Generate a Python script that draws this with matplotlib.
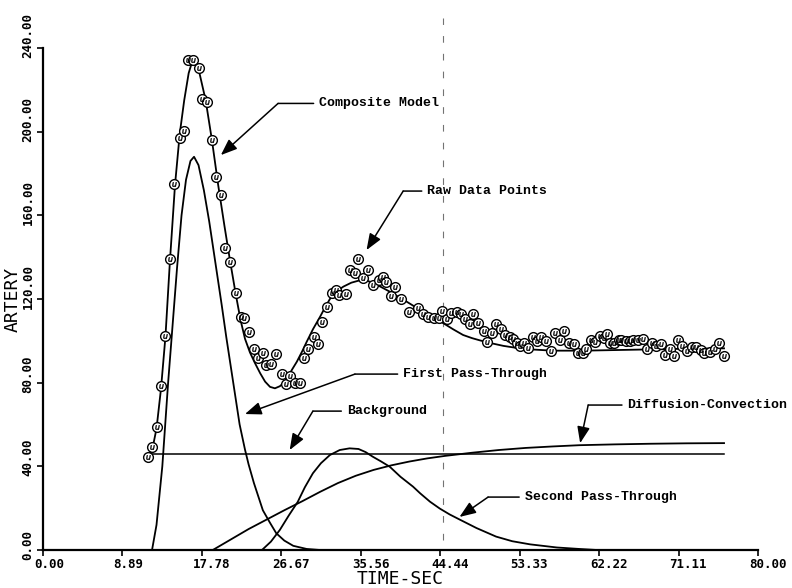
import matplotlib
matplotlib.use("Agg")
import matplotlib.pyplot as plt
from matplotlib.transforms import ScaledTranslation

# ---------------- data ----------------
raw_t = [11.7, 12.2, 12.7, 13.2, 13.7, 14.2, 14.7, 15.3, 15.8, 16.26, 16.8, 17.4, 17.8, 18.4,
         18.9, 19.4, 19.9, 20.4, 20.9, 21.6, 22.2, 22.5, 23.1, 23.6, 24.1, 24.6, 25.0, 25.5,
         26.1, 26.7, 27.2, 27.6, 28.2, 28.7, 29.2, 29.7, 30.3, 30.8, 31.2, 31.8, 32.3, 32.8,
         33.1, 33.9, 34.3, 34.9, 35.3, 35.8, 36.4, 36.9, 37.6, 38.0, 38.4, 38.9, 39.4, 40.0,
         41.0, 42.0, 42.5, 43.1, 43.7, 44.3, 44.6, 45.2, 45.7, 46.3, 46.8, 47.2, 47.8, 48.1,
         48.7, 49.3, 49.7, 50.2, 50.7, 51.2, 51.7, 52.2, 52.6, 53.0, 53.4, 53.8, 54.3, 54.8,
         55.3, 55.7, 56.3, 56.8, 57.3, 57.8, 58.3, 58.8, 59.4, 59.9, 60.4, 60.8, 61.3, 61.8,
         62.3, 62.8, 63.1, 63.4, 63.9, 64.4, 64.7, 65.2, 65.7, 66.0, 66.6, 67.1, 67.6, 68.1,
         68.6, 69.1, 69.6, 70.1, 70.6, 71.1, 71.5, 72.1, 72.6, 73.1, 73.6, 74.0, 74.6, 75.2,
         75.6, 76.2]
raw_v = [44.6, 49.4, 58.9, 78.4, 102.3, 139, 175, 196.8, 200.4, 234.2, 234.2, 230.2, 215.4, 214,
         196, 178.4, 169.7, 144.2, 137.8, 122.7, 111.5, 111, 104.4, 96, 91.6, 94.3, 88.4, 88.9,
         93.5, 84.1, 79.3, 83.2, 80, 79.7, 91.6, 95.9, 102, 98.5, 109.1, 116.3, 122.7, 124.3,
         121.9, 122.4, 133.8, 132.3, 138.9, 129.9, 133.8, 126.7, 129, 130.4, 128.3, 121.4, 125.6, 119.8,
         113.9, 115.5, 112.8, 111.2, 110.8, 110.8, 114.4, 110.3, 113.4, 113.9, 112.8, 110.3, 107.9, 112.8,
         108.4, 104.8, 99.6, 103.9, 107.9, 105.5, 102.8, 102, 100.7, 98.8, 97.5, 98.8, 96.4, 102,
         99.9, 101.7, 100.1, 95.3, 103.6, 100.4, 104.7, 98.8, 98.5, 94, 94.3, 95.9, 100.4, 99.6,
         102.3, 101.2, 103.1, 98.8, 98.8, 100.4, 100.4, 100.1, 100.1, 100.4, 100.4, 100.7, 95.9, 98.8,
         97.5, 98.5, 93.2, 95.9, 92.7, 100.4, 97.5, 95.3, 97.2, 96.9, 95.6, 94, 94.8, 95.9,
         98.8, 92.7]

comp_t = [11.7, 12.2, 12.7, 13.2, 13.7, 14.2, 14.77, 15.3, 15.8, 16.3, 16.8, 17.1, 17.4, 18.2,
          18.9, 19.6, 20.3, 20.9, 21.55, 22.1, 22.6, 23.15, 23.7, 24.3, 24.85, 25.4, 25.95, 26.5,
          27.0, 27.4, 27.9, 28.4, 29.0, 29.5, 30.2, 31.0, 31.5, 32.1, 32.8, 33.6, 34.5, 35.5,
          36.2, 36.9, 37.8, 38.8, 39.7, 40.7, 41.8, 42.9, 43.8, 44.8, 45.9, 47.0, 48.0, 48.9,
          50.0, 51.5, 53.0, 55.0, 57.0, 60.4, 64.2, 67.9, 71.6, 76.2]
comp_v = [45.3, 47.5, 58, 77, 102, 138, 174.5, 199, 215, 228, 235, 234, 230, 215,
          196, 174.5, 155, 139, 122.7, 110, 101, 94.5, 89.5, 84.5, 80.5, 78, 77.3, 78.3,
          80.2, 82.8, 86.5, 90, 95, 99.5, 105.5, 111.5, 115.5, 120, 123.5, 125.9, 127.8, 129,
          128.8, 127.8, 125.8, 123.5, 121.2, 118.7, 115.8, 113.1, 110.8, 108.4, 105.5, 102.8, 101.3, 100.2,
          99, 97.6, 96.6, 95.8, 95.3, 95.3, 95.6, 95.9, 96.2, 96.4]

first_t = [12.2, 12.7, 13.35, 14.0, 14.4, 15.0, 15.5, 16.0, 16.5, 16.9, 17.4, 18.0, 18.6, 19.3,
           20.0, 20.5, 21.0, 21.5, 22.0, 22.6, 23.0, 23.6, 24.6, 25.4, 26.1, 27.0, 28.0, 29.5, 31.0]
first_v = [0, 12, 40, 80, 102, 135, 160, 177, 186, 188, 184, 172, 157, 137,
           117, 102, 88, 74, 60, 48, 41, 32, 19, 13, 8, 4.5, 2, 0.5, 0]

second_t = [24.5, 25.5, 26.5, 27.5, 28.5, 29.3, 30.2, 31.1, 32.1, 33.2, 34.3, 35.3, 36.1, 36.9,
            37.8, 38.8, 40.0, 41.4, 42.2, 43.3, 44.4, 45.5, 46.6, 48.5, 50.7, 52.5, 54.5, 57.5,
            60.0, 62.0]
second_v = [0, 4, 9.6, 16.5, 23, 30, 36.7, 41.5, 45.4, 47.8, 48.6, 48.3, 46.8, 44.6,
            42.4, 39.8, 35, 30.3, 27.1, 23.1, 19.8, 17, 14.6, 10.5, 6.4, 4.2, 2.7, 1.2,
            0.5, 0]

diff_t = [19.0, 21.0, 23.0, 25.0, 27.0, 29.0, 31.0, 33.0, 35.0, 37.0, 39.0, 41.0, 43.0, 45.0,
          48.0, 51.0, 54.0, 57.0, 60.0, 64.0, 68.0, 72.0, 76.2]
diff_v = [0, 5, 10, 14.5, 19, 23.3, 27.8, 32, 35.5, 38.3, 40.5, 42.3, 43.8, 45,
          46.5, 47.8, 48.8, 49.5, 50.1, 50.5, 50.8, 51, 51.1]

bg_t = [12.15, 76.2]
bg_v = [45.7, 45.7]

x_tick_labels = ["0.00", "8.89", "17.78", "26.67", "35.56", "44.44", "53.33", "62.22", "71.11", "80.00"]
y_tick_labels = ["0.00", "40.00", "80.00", "120.00", "160.00", "200.00", "240.00"]

# annotation layout: text, text anchor (x,y), corner x, arrow tip (x,y)
ann_text = ["Composite Model", "Raw Data Points", "First Pass-Through", "Background",
            "Diffusion-Convection", "Second Pass-Through"]
ann_text_xy = [(30.9, 213.5), (43.0, 171.6), (40.3, 84.1), (34.0, 66.4), (65.4, 69.3), (53.9, 25.3)]
ann_corner_x = [26.3, 40.3, 34.9, 30.2, 61.0, 49.8]
ann_tip = [(19.9, 188.8), (36.2, 143.4), (22.6, 65.0), (27.6, 47.8), (60.1, 51.1), (46.6, 15.8)]

fold_x = 44.8  # faint dashed vertical line in the scan

# ---------------- figure ----------------
mono = "DejaVu Sans Mono"
fig = plt.figure(figsize=(7.92, 5.88), dpi=100)
ax = fig.add_axes([43 / 792, 1 - 550 / 588, 715 / 792, 502 / 588])
ax.set_xlim(0, 80)
ax.set_ylim(0, 240)
for s in ("top", "right"):
    ax.spines[s].set_visible(False)
for s in ("left", "bottom"):
    ax.spines[s].set_linewidth(1.6)

ax.axvline(fold_x, ymin=0.02, ymax=1.06, color="0.45", lw=0.8, dashes=(6, 10), clip_on=False, zorder=1)

ax.plot(bg_t, bg_v, color="k", lw=1.1, zorder=2)
ax.plot(diff_t, diff_v, color="k", lw=1.3, zorder=2)
ax.plot(second_t, second_v, color="k", lw=1.3, zorder=2)
ax.plot(first_t, first_v, color="k", lw=1.3, zorder=2)
ax.plot(comp_t, comp_v, color="k", lw=1.3, zorder=2)

ax.plot(raw_t, raw_v, ls="none", marker="o", ms=7, mfc="white", mec="k", mew=1.0, zorder=3)
ax.plot(raw_t, raw_v, ls="none", marker="$u$", ms=3.2, color="k", mew=0.3, zorder=4)

# annotations
for txt, (tx, ty), cx, (px, py) in zip(ann_text, ann_text_xy, ann_corner_x, ann_tip):
    ax.annotate(txt, xy=(cx, ty), xytext=(tx, ty), ha="left", va="center",
                fontsize=9.5, family="Liberation Mono", fontweight="bold",
                arrowprops=dict(arrowstyle="-", color="k", lw=1.1, shrinkA=2, shrinkB=0))
    ax.annotate("", xy=(px, py), xytext=(cx, ty),
                arrowprops=dict(arrowstyle="-|>,head_length=0.9,head_width=0.35", color="k",
                                lw=1.1, shrinkA=0, shrinkB=0, mutation_scale=11))

# ticks
ax.set_xticks([float(s) for s in x_tick_labels])
ax.set_xticklabels(x_tick_labels, family=mono, fontsize=9, fontweight="bold")
ax.set_yticks([float(s) for s in y_tick_labels])
ax.set_yticklabels(y_tick_labels, family=mono, fontsize=9, fontweight="bold")
ax.tick_params(axis="x", direction="out", length=4, width=1.2, pad=2)
ax.tick_params(axis="y", direction="out", length=4, width=1.2, pad=2)

for lbl in ax.get_xticklabels():
    lbl.set_ha("left")
    lbl.set_transform(lbl.get_transform() + ScaledTranslation(-0.09, 0, fig.dpi_scale_trans))
for lbl in ax.get_yticklabels():
    lbl.set_rotation(90)
    lbl.set_va("bottom")
    lbl.set_ha("right")
    lbl.set_transform(lbl.get_transform() + ScaledTranslation(0, -0.10, fig.dpi_scale_trans))

ax.set_xlabel("TIME-SEC", family=mono, fontsize=13, va="center")
ax.xaxis.set_label_coords(0.5, -0.058)
ax.set_ylabel("ARTERY", family=mono, fontsize=13, va="center")
ax.yaxis.set_label_coords(-0.042, 0.5)

fig.savefig("out.png", dpi=100)
